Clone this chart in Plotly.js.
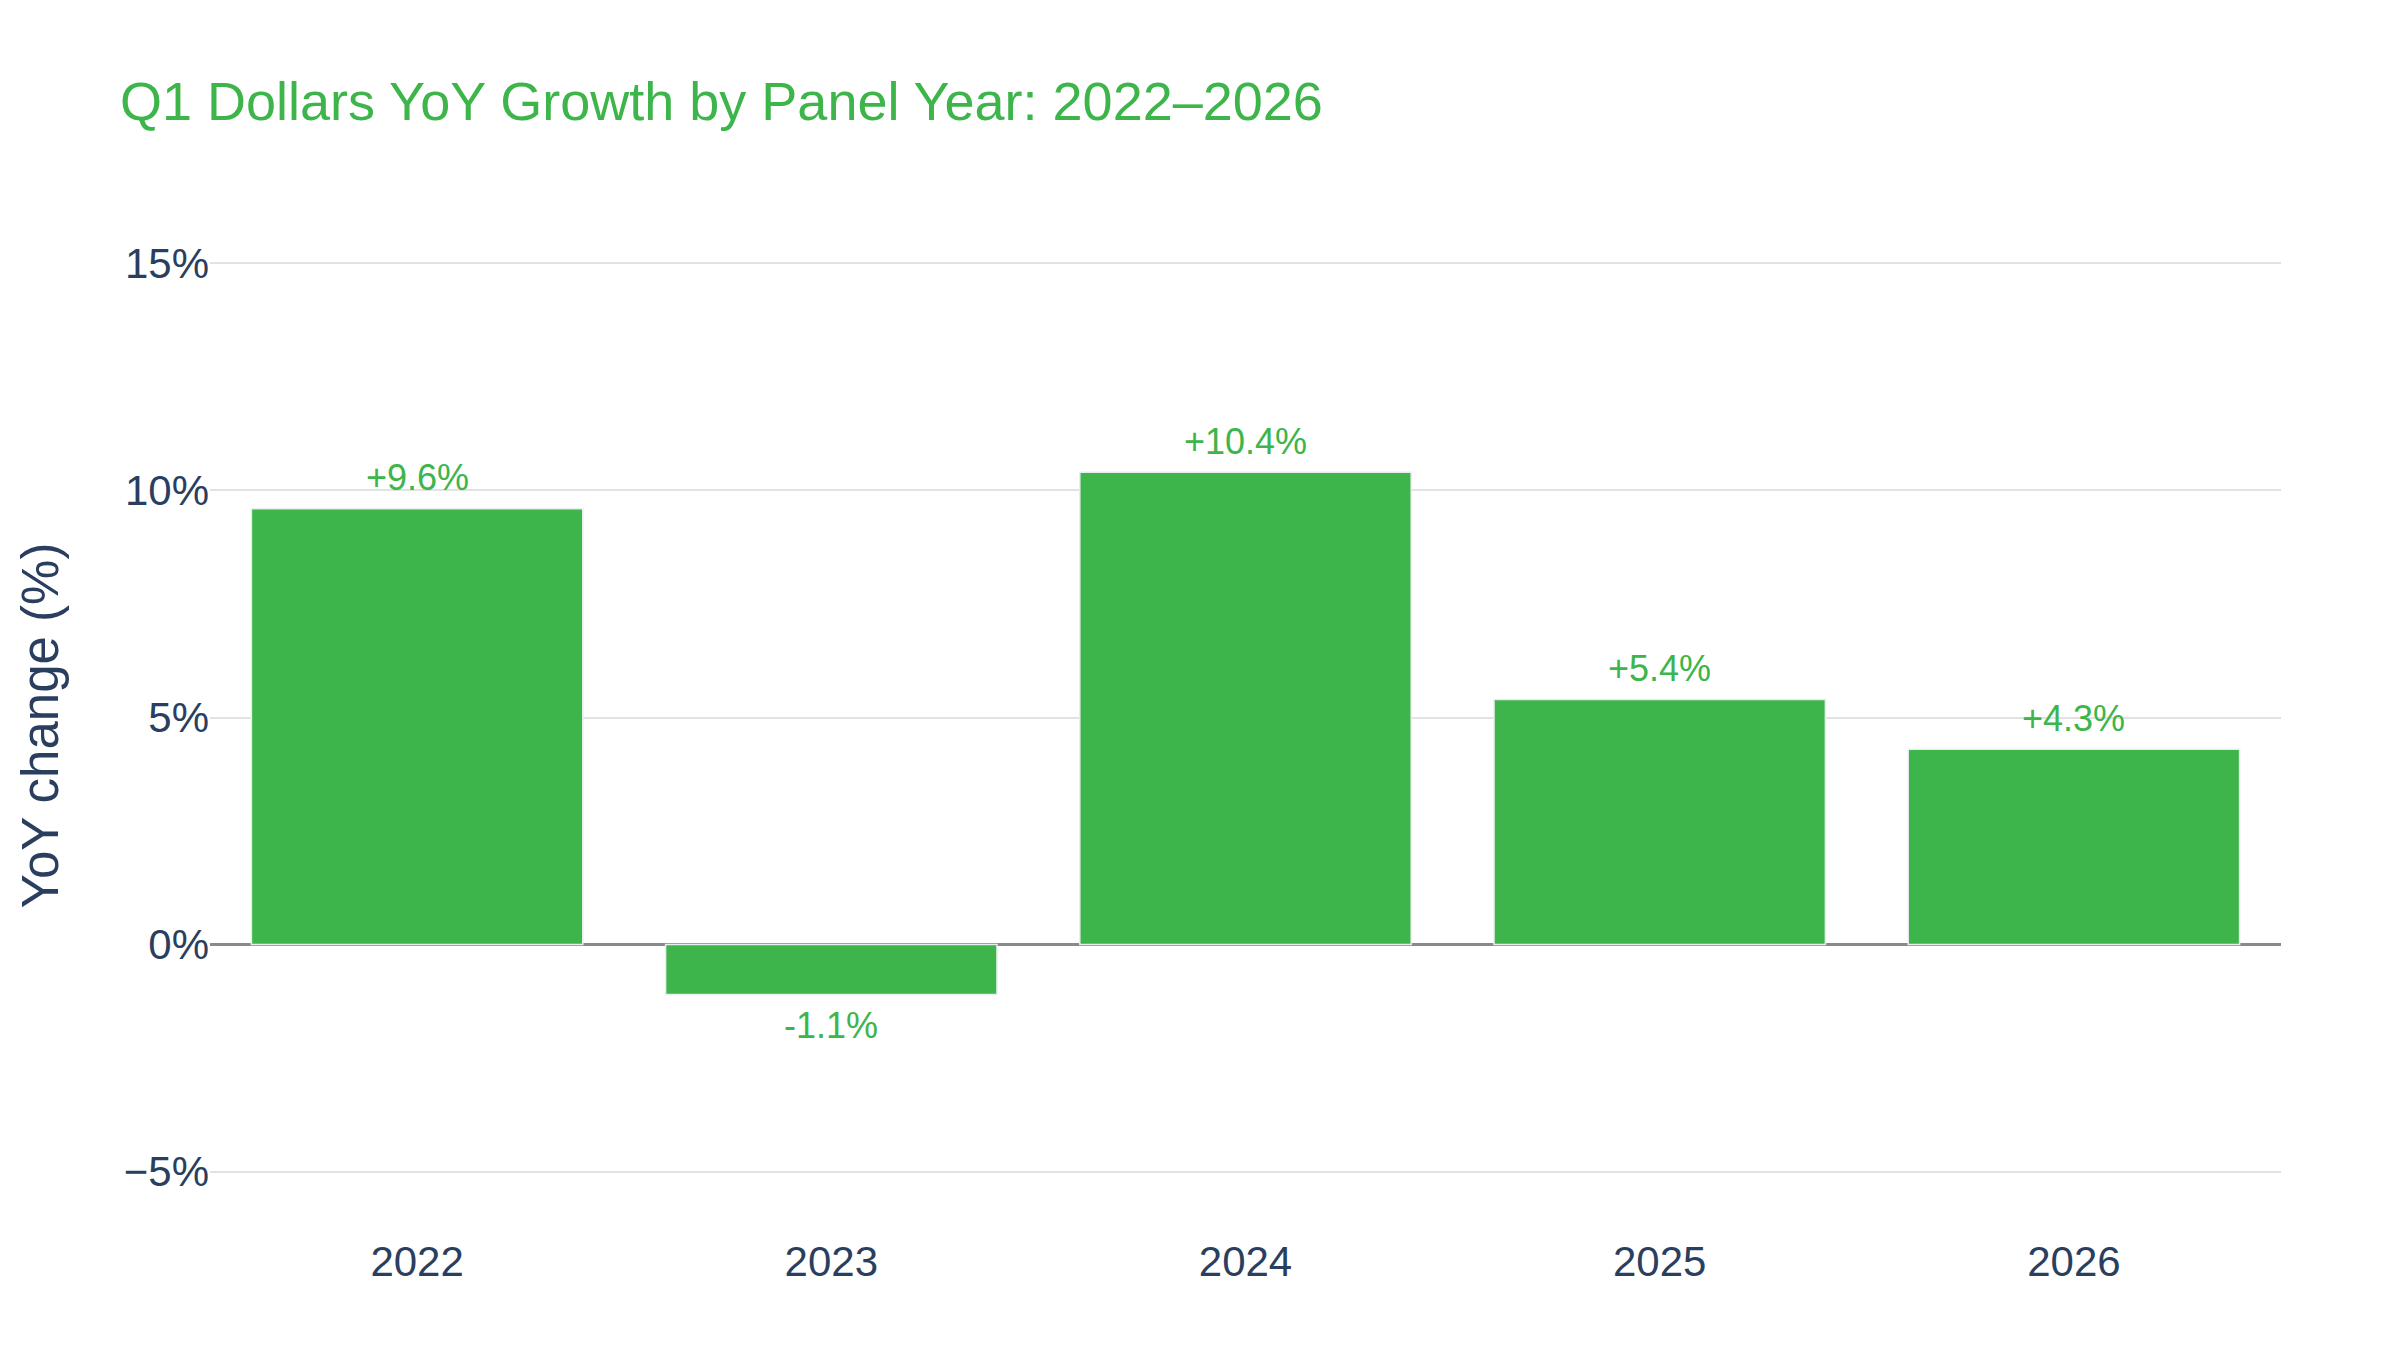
<!DOCTYPE html>
<html>
<head>
<meta charset="utf-8">
<script src="https://cdn.plot.ly/plotly-3.0.1.min.js"></script>
<style>
    html, body { margin: 0; padding: 0; background: #ffffff; }
    #chart { width: 2400px; height: 1350px; }
</style>
</head>
<body>
<div id="chart"></div>
<script>

const years = [ '2022', '2023', '2024', '2025', '2026' ];
const yoyGrowth = [ 9.6, -1.1, 10.4, 5.4, 4.3 ];
const yTickVals = [ -5, 0, 5, 10, 15 ];
const yTickText = [ '\u22125%', '0%', '5%', '10%', '15%' ];

const green = '#3db54a';
const ink = '#2a3f5f';
const fontFamily = '"Liberation Sans", Arial, sans-serif';

const labels = yoyGrowth.map( v => ( v > 0 ? '+' : '' ) + v.toFixed( 1 ) + '%' );

const chartData = [
    {
        type: 'bar',
        x: years,
        y: yoyGrowth,
        marker: {
            color: green,
            line: {
                color: '#e8eef0',
                width: 1.5
            }
        },
        hoverinfo: 'skip'
    }
];

// value labels sit a bit further from the bar ends than plotly's own outside text
// (x is the category index: year strings would be read as numbers)
const valueLabels = years.map( ( year, i ) => ( {
    x: i,
    y: yoyGrowth[ i ],
    text: labels[ i ],
    showarrow: false,
    yanchor: 'middle',
    yshift: yoyGrowth[ i ] >= 0 ? 31 : -31,
    font: { size: 36, color: green, family: fontFamily }
} ) );

const chartLayout = {
    width: 2400,
    height: 1350,
    paper_bgcolor: '#ffffff',
    plot_bgcolor: '#ffffff',
    font: {
        family: fontFamily,
        color: ink
    },
    title: {
        text: 'Q1 Dollars YoY Growth by Panel Year: 2022\u20132026',
        x: 0.05,
        xanchor: 'left',
        y: 0.925,
        yanchor: 'middle',
        font: {
            size: 54,
            color: green,
            family: fontFamily
        }
    },
    margin: { l: 210, r: 119, t: 218, b: 117 },
    bargap: 0.2,
    showlegend: false,
    annotations: valueLabels,
    xaxis: {
        type: 'category',
        range: [ -0.5, years.length - 0.5 ],
        tickfont: { size: 42, color: ink },
        showgrid: false,
        showline: false,
        ticks: ''
    },
    yaxis: {
        title: {
            text: 'YoY change (%)',
            standoff: 48,
            font: { size: 51, color: ink }
        },
        range: [ -6.35, 16 ],
        tickvals: yTickVals,
        ticktext: yTickText,
        tickfont: { size: 42, color: ink },
        gridcolor: '#e2e2e2',
        gridwidth: 2,
        zeroline: true,
        zerolinecolor: '#8a8a8a',
        zerolinewidth: 3,
        showline: false,
        ticks: ''
    }
};

Plotly.newPlot( 'chart', chartData, chartLayout, { displayModeBar: false, staticPlot: true } );

</script>
</body>
</html>
